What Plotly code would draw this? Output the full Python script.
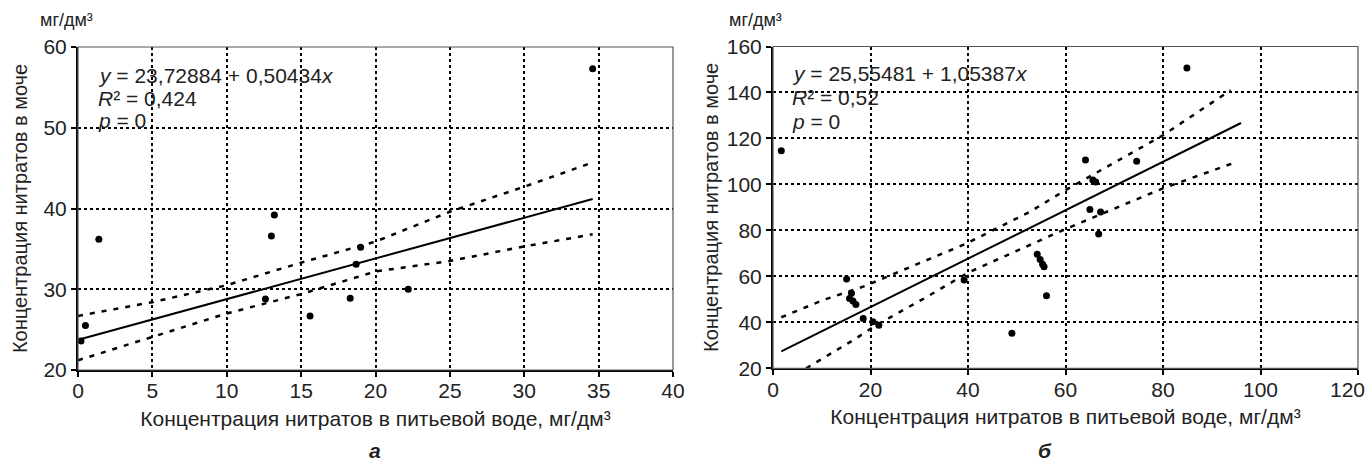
import plotly.graph_objects as go

# ---- Panel a data ----
a_x = [0.2, 0.5, 1.4, 12.6, 13.0, 13.2, 15.6, 18.3, 18.7, 19.0, 22.2, 34.6]
a_y = [23.6, 25.5, 36.2, 28.8, 36.6, 39.2, 26.7, 28.9, 33.1, 35.2, 30.0, 57.3]
a_b0, a_b1 = 23.72884, 0.50434
a_band_x = [0, 5, 10, 15, 20, 25, 30, 34.6]
a_upper = [26.7, 28.4, 30.5, 33.3, 35.9, 39.6, 42.7, 45.7]
a_lower = [21.2, 24.1, 27.0, 29.4, 32.2, 33.5, 35.3, 36.8]

# ---- Panel b data ----
b_x = [1.7, 15.1, 15.7, 16.1, 16.4, 17.0, 18.5, 20.5, 21.7, 39.2, 49.0,
       54.2, 54.8, 55.3, 55.6, 56.1, 64.1, 65.0, 65.6, 66.2, 66.8, 67.2, 74.6, 84.9]
b_y = [114.6, 58.8, 50.4, 52.6, 49.3, 47.8, 41.7, 40.3, 38.7, 58.4, 35.2,
       69.6, 67.3, 65.3, 64.2, 51.6, 110.6, 89.1, 101.9, 101.0, 78.4, 88.0, 110.1, 150.6]
b_b0, b_b1 = 25.55481, 1.05387
b_up_x = [1.7, 10.3, 18.5, 28.7, 39.7, 52.7, 60, 80, 93.9]
b_upper = [42.2, 49.7, 55.5, 64.5, 74.3, 88.1, 97.5, 121.4, 141.0]
b_lo_x = [6.8, 11.6, 16.5, 21.2, 31.5, 40, 60, 80, 94.6]
b_lower = [20.0, 26.2, 32.3, 38.8, 51.0, 61.6, 80.6, 98.3, 109.4]

x_ticks_b = [0, 20, 40, 60, 80, 100, 120]
x_ticktext_b = ["0", "20", "40", "60", "80", "100", ""]

FONT = "Liberation Sans, Arial, sans-serif"
FS = 21
TXT = "#222"
W, H = 1368, 461

# plot-area boxes in pixels (left, right, top, bottom)
PA = (78, 673, 47, 370)
PB = (773, 1358, 46.5, 368.3)

fig = go.Figure()
BAND = dict(color="black", width=2.5, dash="5px,7px")

def add_panel(xs, ys, b0, b1, xmax_line, ux, uy, lx, ly, xa, ya):
    fig.add_trace(go.Scatter(x=ux, y=uy, mode="lines", xaxis=xa, yaxis=ya, line=BAND,
                             showlegend=False, hoverinfo="skip"))
    fig.add_trace(go.Scatter(x=lx, y=ly, mode="lines", xaxis=xa, yaxis=ya, line=BAND,
                             showlegend=False, hoverinfo="skip"))
    x0 = min(xs)
    x1 = xmax_line
    fig.add_trace(go.Scatter(x=[x0, x1], y=[b0 + b1 * x0, b0 + b1 * x1], mode="lines",
                             xaxis=xa, yaxis=ya, line=dict(color="black", width=2),
                             showlegend=False, hoverinfo="skip"))
    fig.add_trace(go.Scatter(x=xs, y=ys, mode="markers", xaxis=xa, yaxis=ya,
                             marker=dict(color="black", size=7),
                             showlegend=False))

add_panel(a_x, a_y, a_b0, a_b1, max(a_x), a_band_x, a_upper, a_band_x, a_lower, "x", "y")
add_panel(b_x, b_y, b_b0, b_b1, 96, b_up_x, b_upper, b_lo_x, b_lower, "x2", "y2")

common_axis = dict(showgrid=True, gridcolor="black", gridwidth=1.5, griddash="3px,3px",
                   showline=True, linecolor="black", linewidth=2, automargin=False,
                   ticks="outside", ticklen=5, tickwidth=1.5, tickcolor="black",
                   zeroline=False, tickfont=dict(family=FONT, size=FS, color=TXT))

xtitle = "Концентрация нитратов в питьевой воде, мг/дм³"
ytitle = "Концентрация нитратов в моче"
xt_font = dict(family=FONT, size=FS, color=TXT)
yt_font = dict(family=FONT, size=20, color=TXT)

fig.update_layout(
    width=W, height=H, margin=dict(l=0, r=0, t=0, b=0, autoexpand=False),
    paper_bgcolor="white", plot_bgcolor="white",
    font=dict(family=FONT, size=FS, color=TXT),
    xaxis=dict(domain=[PA[0] / W, PA[1] / W], range=[0, 40], dtick=5, anchor="y",
               ticklabelstandoff=-4,
               title=dict(text=xtitle, standoff=10, font=xt_font), **common_axis),
    yaxis=dict(domain=[1 - PA[3] / H, 1 - PA[2] / H], range=[20, 60], dtick=10, anchor="x",
               title=dict(text=ytitle, standoff=10, font=yt_font), **common_axis),
    xaxis2=dict(domain=[PB[0] / W, PB[1] / W], range=[0, 120], tickvals=x_ticks_b,
                ticktext=x_ticktext_b, anchor="y2", ticklabelstandoff=-4,
                title=dict(text=xtitle, standoff=10, font=xt_font), **common_axis),
    yaxis2=dict(domain=[1 - PB[3] / H, 1 - PB[2] / H], range=[20, 160], dtick=20, anchor="x2",
                title=dict(text=ytitle, standoff=3, font=yt_font), **common_axis),
)

# last tick label of panel b kept inside the page
fig.add_annotation(xref="paper", yref="paper", x=1367 / W, y=1 - 389 / H, text="120",
                   showarrow=False, xanchor="right", yanchor="middle",
                   font=dict(family=FONT, size=FS, color=TXT))

# box border (top/right)
for xr, yr in (("x domain", "y domain"), ("x2 domain", "y2 domain")):
    fig.add_shape(type="rect", xref=xr, yref=yr, x0=0, x1=1, y0=0, y1=1,
                  line=dict(color="#555", width=1.2), layer="above")

def dom(box, px, py):
    return (px - box[0]) / (box[1] - box[0]), (box[3] - py) / (box[3] - box[2])

def white_box(box, xr, yr, x0, x1, y0, y1):
    a = dom(box, x0, y0)
    b = dom(box, x1, y1)
    fig.add_shape(type="rect", xref=xr, yref=yr, x0=a[0], x1=b[0], y0=b[1], y1=a[1],
                  fillcolor="white", line=dict(width=0), layer="below")

def eq_annots(box, xref, yref, xpx, lines, ypx):
    for t, yp in zip(lines, ypx):
        dx, dy = dom(box, xpx, yp)
        fig.add_annotation(xref=xref, yref=yref, x=dx, y=dy,
                           text=t, showarrow=False, xanchor="left", yanchor="middle",
                           font=dict(family=FONT, size=FS, color=TXT))

# white patches behind the regression text (as in the original)
white_box(PA, "x domain", "y domain", 97, 345, 56, 93)
white_box(PA, "x domain", "y domain", 97, 205, 93, 110)
white_box(PA, "x domain", "y domain", 97, 163, 110, 138)
white_box(PB, "x2 domain", "y2 domain", 790, 1030, 56, 91)
white_box(PB, "x2 domain", "y2 domain", 790, 898, 91, 108)
white_box(PB, "x2 domain", "y2 domain", 790, 875, 108, 126)

eq_annots(PA, "x domain", "y domain", 96,
          ["<i>y</i> = 23,72884 + 0,50434<i>x</i>", "<i>R</i>² = 0,424", "<i>p</i> = 0"],
          [75.5, 98.5, 121])
eq_annots(PB, "x2 domain", "y2 domain", 790,
          ["<i>y</i> = 25,55481 + 1,05387<i>x</i>", "<i>R</i>² = 0,52", "<i>p</i> = 0"],
          [74, 98, 121])

# units labels above y axes
for xp in (38, 727):
    fig.add_annotation(xref="paper", yref="paper", x=xp / W, y=1 - 20 / H, text="мг/дм³",
                       showarrow=False, xanchor="left", yanchor="middle",
                       font=dict(family=FONT, size=18, color=TXT))

# panel labels
fig.add_annotation(xref="paper", yref="paper", x=375 / W, y=1 - 450 / H, text="<b><i>а</i></b>",
                   showarrow=False, xanchor="center", yanchor="middle",
                   font=dict(family=FONT, size=FS, color=TXT))
fig.add_annotation(xref="paper", yref="paper", x=1045 / W, y=1 - 450 / H, text="<b><i>б</i></b>",
                   showarrow=False, xanchor="center", yanchor="middle",
                   font=dict(family=FONT, size=FS, color=TXT))

fig.write_html("out.html", config={"displayModeBar": False},
               post_script="document.body.style.margin='0';document.body.style.overflow='hidden';")
